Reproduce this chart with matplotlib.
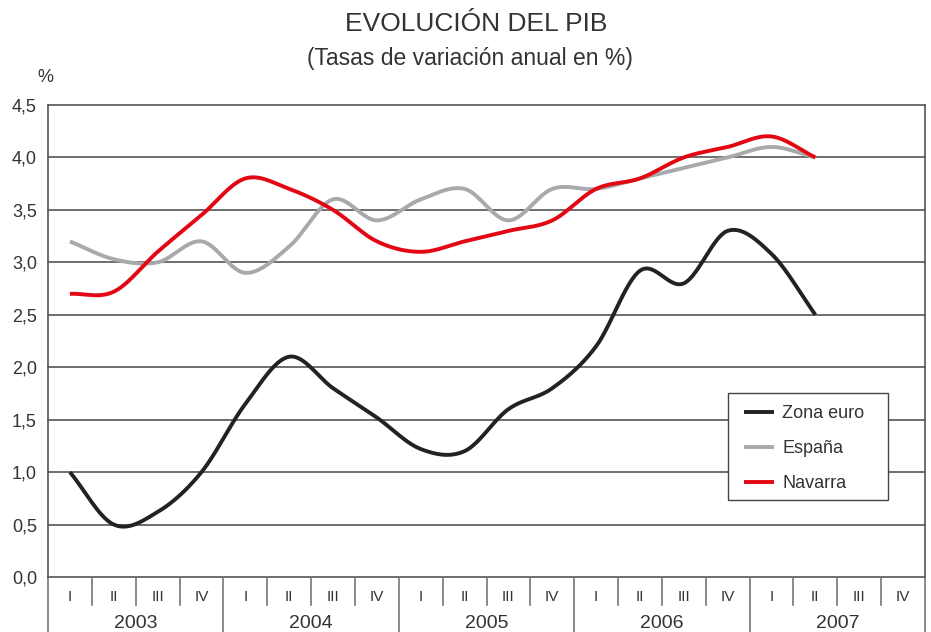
import numpy as np
import matplotlib.pyplot as plt
from matplotlib.patches import Rectangle
from matplotlib.transforms import blended_transform_factory

plt.rcParams['font.family'] = ['Liberation Sans', 'DejaVu Sans']

years = ['2003', '2004', '2005', '2006', '2007']
quarters = ['I', 'II', 'III', 'IV']

zona_euro = [1.0, 0.5, 0.62, 1.0, 1.65, 2.1, 1.8, 1.52, 1.22, 1.2, 1.6, 1.8, 2.2, 2.92, 2.8, 3.3, 3.08, 2.5]
espana = [3.2, 3.03, 3.0, 3.2, 2.9, 3.15, 3.6, 3.4, 3.6, 3.7, 3.4, 3.7, 3.7, 3.8, 3.9, 4.0, 4.1, 4.0]
navarra = [2.7, 2.72, 3.1, 3.45, 3.8, 3.7, 3.5, 3.2, 3.1, 3.2, 3.3, 3.4, 3.7, 3.8, 4.0, 4.1, 4.2, 4.0]

txt = '#333333'


# smoothed line through the points (catmull-rom, like spreadsheet "smoothed lines")
def smooth(x, y, n=30):
    x = np.asarray(x, float)
    y = np.asarray(y, float)
    px = np.concatenate([[2*x[0]-x[1]], x, [2*x[-1]-x[-2]]])
    py = np.concatenate([[2*y[0]-y[1]], y, [2*y[-1]-y[-2]]])
    xs, ys = [], []
    t = np.linspace(0, 1, n, endpoint=False)
    for i in range(1, len(px)-2):
        for p, out in ((px, xs), (py, ys)):
            p0, p1, p2, p3 = p[i-1], p[i], p[i+1], p[i+2]
            out.append(0.5*((2*p1) + (-p0+p2)*t + (2*p0-5*p1+4*p2-p3)*t**2 + (-p0+3*p1-3*p2+p3)*t**3))
    xs.append([x[-1]])
    ys.append([y[-1]])
    return np.concatenate(xs), np.concatenate(ys)


fig = plt.figure(figsize=(9.31, 6.32), dpi=100)
ax = fig.add_axes([48/931, 55/632, 877/931, 472/632])

nq = len(years)*len(quarters)
x = np.arange(len(zona_euro)) + 0.5

for vals, col, lab in [(zona_euro, '#222222', 'Zona euro'),
                       (espana, '#a7a9ac', 'España'),
                       (navarra, '#e30613', 'Navarra')]:
    sx, sy = smooth(x, vals)
    ax.plot(sx, sy, color=col, lw=2.8, label=lab, solid_capstyle='butt', zorder=3)

ax.set_xlim(0, nq)
ax.set_ylim(0, 4.5)
yt = np.arange(0, 4.51, 0.5)
ax.set_yticks(yt)
ax.set_yticklabels([('%.1f' % v).replace('.', ',') for v in yt], fontsize=13, color=txt)
ax.tick_params(axis='y', length=0, pad=8)
ax.set_xticks([])
for v in yt:
    ax.axhline(v, color='#555555', lw=1.2, zorder=1, clip_on=False)
for s in ['top', 'bottom']:
    ax.spines[s].set_visible(False)
for s in ['left', 'right']:
    ax.spines[s].set_color('#555555')
    ax.spines[s].set_linewidth(1.2)

# category axis under the plot
tr = blended_transform_factory(ax.transData, fig.transFigure)
for i in range(nq + 1):
    if i % 4 == 0:
        y0 = 0.0
    else:
        y0 = 1 - 605/632
    ax.plot([i, i], [y0, 55/632], transform=tr, color='#777777', lw=1.2, clip_on=False)
for i in range(nq):
    ax.text(i + 0.5, 1 - 597/632, quarters[i % 4], transform=tr, ha='center', va='center',
            fontsize=11, color=txt)
for j, yr in enumerate(years):
    ax.text(j*4 + 2, 1 - 624/632, yr, transform=tr, ha='center', va='center',
            fontsize=14, color=txt)

fig.text(0.512, 1 - 24/632, 'EVOLUCIÓN DEL PIB', ha='center', va='center', fontsize=19, color=txt)
fig.text(0.505, 1 - 59/632, '(Tasas de variación anual en %)', ha='center', va='center',
         fontsize=16.5, color=txt)
fig.text(45/931, 1 - 77/632, '%', ha='center', va='center', fontsize=13, color=txt)

# legend box
box = Rectangle((728/931, 1 - 500/632), 160/931, 107/632, transform=fig.transFigure,
                facecolor='white', edgecolor='#444444', lw=1.0, clip_on=False, zorder=4)
ax.add_patch(box)
leg = ax.legend(loc='upper left', bbox_to_anchor=(744/931, 1 - 405/632), bbox_transform=fig.transFigure,
                fontsize=13, frameon=False, handlelength=1.66, borderpad=0,
                labelspacing=1.0, handletextpad=0.45, borderaxespad=0)
leg.set_zorder(5)
for t in leg.get_texts():
    t.set_color(txt)

fig.savefig('out.png', dpi=100)
